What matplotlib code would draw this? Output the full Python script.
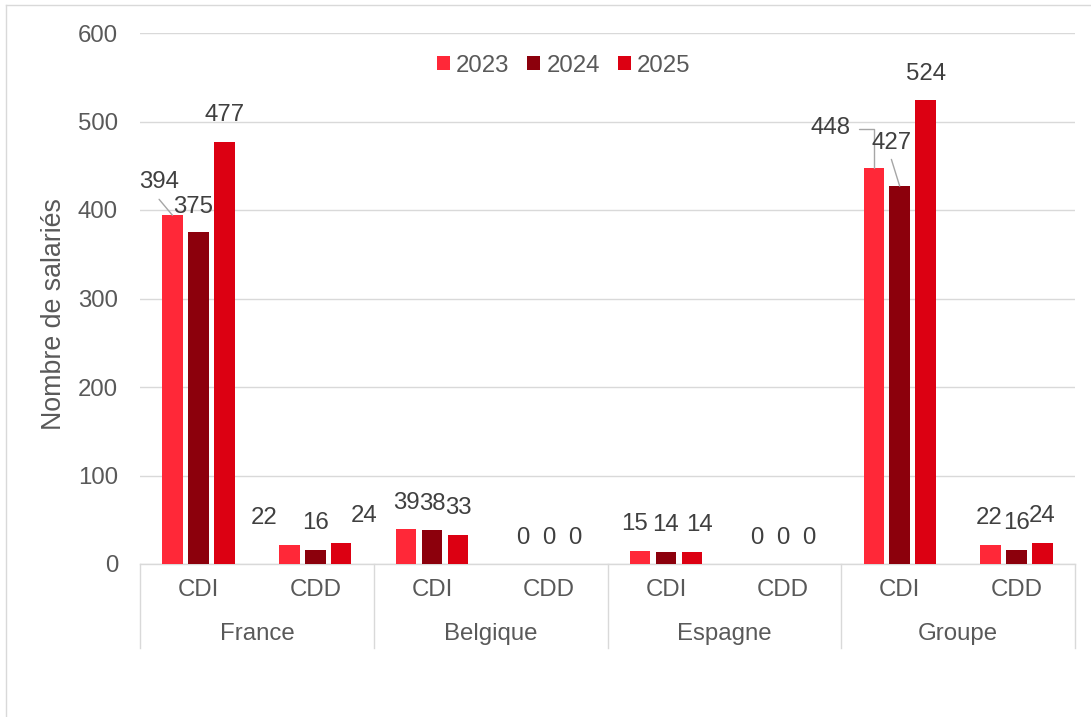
import matplotlib
matplotlib.use("Agg")
import matplotlib.pyplot as plt
import matplotlib.transforms as mtransforms
from matplotlib.lines import Line2D
import numpy as np

plt.rcParams["font.family"] = ["Liberation Sans", "DejaVu Sans"]

# data
groups     = ["France", "Belgique", "Espagne", "Groupe"]
contracts  = ["CDI", "CDD"]
years      = ["2023", "2024", "2025"]
vals_2023  = [394, 22, 39, 0, 15, 0, 448, 22]
vals_2024  = [375, 16, 38, 0, 14, 0, 427, 16]
vals_2025  = [477, 24, 33, 0, 14, 0, 524, 24]
yticks     = [0, 100, 200, 300, 400, 500, 600]

COLORS     = ["#FF2838", "#8C000C", "#DC0012"]
GRID       = "#D9D9D9"
TICK_TXT   = "#595959"
LBL_TXT    = "#404040"
LEADER     = "#A6A6A6"
FS         = 17.3
PX         = 0.72  # points per pixel at dpi 100

# manual label nudges (px, right/up) -- (series, category)
nudge = {
    (0, 0): (-13.7, 7), (1, 0): (-5.7, -1),
    (0, 1): (-25, 0), (2, 1): (23, 0),
    (0, 4): (-5, 0), (2, 4): (7.5, 0),
    (0, 6): (-43, 13), (1, 6): (-7.7, 17),
    (0, 7): (-1.5, 0),
}
# leader lines: start point relative to bar top (px), elbow?
leaders = {
    (0, 0): (-13.4, 16, False),
    (0, 6): (-14.7, 39, True),
    (1, 6): (-8.3, 26.7, False),
}

fig = plt.figure(figsize=(10.91, 7.17), dpi=100)
W, H = 1091, 717
ax = fig.add_axes([140 / W, 1 - 564 / H, 935 / W, 531 / H])

series = [vals_2023, vals_2024, vals_2025]
n_cat = len(groups) * len(contracts)
x = np.arange(n_cat)
offs = [-0.222, 0.0, 0.222]
width = 0.175

for si, (vals, col, yr) in enumerate(zip(series, COLORS, years)):
    xs = x + offs[si]
    ax.bar(xs, vals, width=width, color=col, label=yr, zorder=3)
    for ci, (xx, v) in enumerate(zip(xs, vals)):
        dx, dy = nudge.get((si, ci), (0, 0))
        ax.annotate(str(v), xy=(xx, v), xytext=(dx * PX, (26.5 + dy) * PX),
                    textcoords="offset points", ha="center", va="center",
                    fontsize=FS, color=LBL_TXT, zorder=5)
        if (si, ci) in leaders:
            lx, ly, elbow = leaders[(si, ci)]
            cs = "angle,angleA=0,angleB=90,rad=0" if elbow else "arc3"
            ax.annotate("", xy=(xx, v), xytext=(lx * PX, ly * PX),
                        textcoords="offset points",
                        arrowprops=dict(arrowstyle="-", color=LEADER, lw=1,
                                        shrinkA=0, shrinkB=0, connectionstyle=cs),
                        zorder=4)

ax.set_xlim(-0.5, n_cat - 0.5)
ax.set_ylim(0, 600)
ax.set_yticks(yticks)
ax.set_yticklabels([str(t) for t in yticks], fontsize=FS, color=TICK_TXT)
ax.tick_params(axis="y", length=0, pad=22 * PX)
ax.set_xticks([])
ax.grid(axis="y", color=GRID, linewidth=1, zorder=0)
for s in ["top", "right", "left"]:
    ax.spines[s].set_visible(False)
ax.spines["bottom"].set_color(GRID)
ax.spines["bottom"].set_linewidth(1)

ax.set_ylabel("Nombre de salariés", fontsize=19.3, color=TICK_TXT, va="center")
ax.yaxis.set_label_coords(-86 / 935, 0.471)

# two-level category axis
trans = mtransforms.blended_transform_factory(ax.transData, ax.transAxes)
for ci in range(n_cat):
    ax.text(ci, -26 / 531, contracts[ci % 2], transform=trans, ha="center",
            va="center", fontsize=FS, color=TICK_TXT, clip_on=False)
for gi, g in enumerate(groups):
    ax.text(gi * 2 + 0.5, -70 / 531, g, transform=trans, ha="center",
            va="center", fontsize=FS, color=TICK_TXT, clip_on=False)
for b in range(len(groups) + 1):
    ax.plot([b * 2 - 0.5, b * 2 - 0.5], [0, -84 / 531], transform=trans,
            color=GRID, lw=1, clip_on=False)

fig.legend(loc="center", bbox_to_anchor=(563.6 / W, 1 - 65.7 / H), ncol=3,
           frameon=False, fontsize=FS, labelcolor=TICK_TXT,
           handlelength=0.55, handleheight=0.55, handletextpad=0.25,
           columnspacing=0.75)

# chart frame
fig.add_artist(Line2D([6 / W, 1], [1 - 4.5 / H, 1 - 4.5 / H], color=GRID, lw=1))
fig.add_artist(Line2D([6 / W, 6 / W], [0, 1 - 4.5 / H], color=GRID, lw=1))

fig.savefig("out.png", dpi=100, facecolor="white")
